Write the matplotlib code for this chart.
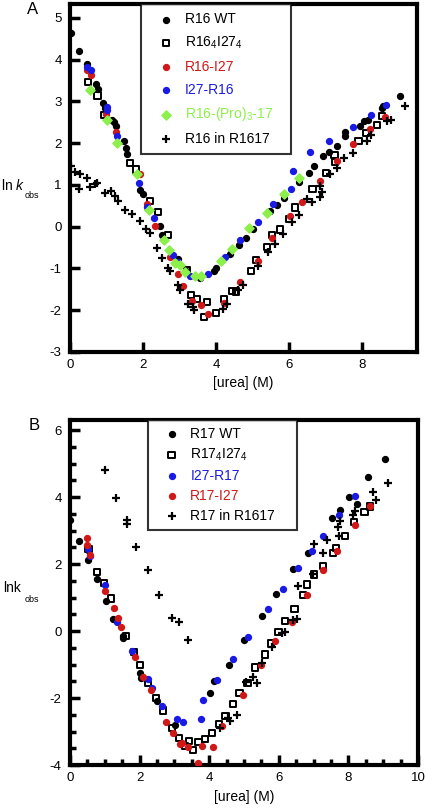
import matplotlib
matplotlib.use("Agg")
import matplotlib.pyplot as plt
from matplotlib.ticker import MultipleLocator

plt.rcParams['font.family'] = ['Liberation Sans', 'DejaVu Sans']
plt.rcParams['mathtext.fontset'] = 'custom'
plt.rcParams['mathtext.rm'] = 'Liberation Sans'
plt.rcParams['mathtext.it'] = 'Liberation Sans:italic'
plt.rcParams['axes.unicode_minus'] = False

# ---------------- Panel A data ----------------
a_wt_x = [0.02,0.25,0.47,0.71,0.76,0.91,0.96,1.16,1.21,1.26,1.48,1.53,1.57,1.92,2.01,2.47,2.51,2.97,3.17,3.56,3.95,4.01,4.38,4.63,4.82,5.02,5.48,5.66,5.86,6.27,6.53,6.68,6.92,7.10,7.31,7.52,7.53,7.95,8.04,8.17,8.54,8.58,9.04]
a_wt_y = [4.64,4.21,3.89,3.41,3.30,2.96,2.85,2.56,2.50,2.40,2.05,1.88,1.75,0.87,0.79,0.02,-0.19,-0.77,-1.05,-1.22,-1.05,-0.98,-0.65,-0.45,-0.27,-0.06,0.38,0.52,0.68,1.07,1.29,1.45,1.69,1.79,1.92,2.17,2.26,2.42,2.54,2.56,2.84,2.90,3.12]

a_sq_x = [0.50,0.75,0.94,1.64,1.81,2.19,2.42,2.69,3.20,3.31,3.47,3.74,3.67,4.00,4.22,4.43,4.55,4.95,5.10,5.39,5.53,5.75,6.00,6.16,6.64,7.01,7.24,7.26,7.90,8.11,8.40,8.54]
a_sq_y = [3.46,3.14,2.68,1.53,1.37,0.62,0.36,-0.20,-1.05,-1.63,-1.74,-1.80,-2.16,-2.06,-1.73,-1.54,-1.55,-1.07,-0.79,-0.48,-0.20,-0.07,0.18,0.46,0.91,1.29,1.71,1.54,2.05,2.25,2.44,2.64]

a_red_x = [0.47,0.57,0.99,1.26,1.92,2.10,2.33,2.74,2.97,3.10,3.33,3.58,3.79,4.22,4.66,5.16,5.53,6.03,6.35,6.85,7.32,7.76,8.22,8.63]
a_red_y = [3.75,3.64,2.70,2.26,1.25,0.54,0.02,-0.73,-1.13,-1.43,-1.79,-1.88,-2.08,-1.82,-1.33,-0.81,-0.28,0.26,0.58,1.10,1.57,1.98,2.33,2.63]

a_blue_x = [0.47,0.57,1.00,1.00,1.30,1.90,2.10,2.30,2.81,2.96,3.29,3.77,4.25,4.66,5.16,5.55,6.05,6.10,6.58,7.08,7.76,8.24,8.66]
a_blue_y = [3.83,3.75,2.86,2.79,2.17,1.05,0.48,0.21,-0.67,-0.85,-1.17,-1.14,-0.73,-0.32,0.10,0.54,0.91,1.33,1.79,2.05,2.38,2.68,2.92]

a_grn_x = [0.55,1.02,1.30,1.83,2.17,2.58,2.71,2.88,3.01,3.15,3.42,3.58,4.13,4.43,4.89,5.39,5.86,6.27]
a_grn_y = [3.28,2.55,2.01,1.25,0.40,-0.33,-0.55,-0.87,-0.92,-1.09,-1.17,-1.18,-0.83,-0.53,-0.04,0.32,0.79,1.17]

a_pl_x = [0.02,0.15,0.27,0.25,0.46,0.55,0.68,0.73,0.96,1.13,1.23,1.32,1.51,1.69,1.92,2.08,2.19,2.37,2.51,2.69,2.74,2.97,3.01,3.24,3.38,3.40,4.18,4.29,4.61,4.75,5.16,5.43,5.62,5.84,6.07,6.27,6.48,6.62,6.85,6.85,6.90,7.12,7.31,7.49,7.76,8.13,8.25,8.68,8.80,9.18]
a_pl_y = [1.45,1.30,1.25,0.90,1.17,0.94,1.03,1.05,0.80,0.86,0.74,0.62,0.40,0.30,0.13,-0.06,-0.15,-0.51,-0.75,-0.99,-1.07,-1.40,-1.51,-1.84,-1.92,-2.00,-1.96,-1.85,-1.52,-1.40,-0.93,-0.61,-0.41,-0.17,0.10,0.29,0.66,0.60,0.70,0.98,0.83,1.25,1.41,1.65,1.77,2.05,2.20,2.52,2.56,2.88]

# ---------------- Panel B data ----------------
b_wt_x = [0.0,0.27,0.53,0.53,0.78,1.03,1.24,1.51,1.52,2.01,2.03,2.49,3.02,4.02,4.14,4.58,5.00,5.51,5.92,6.40,6.85,7.54,7.76,8.03,8.24,8.55,9.05]
b_wt_y = [3.30,2.69,2.41,2.13,1.55,0.89,0.35,-0.15,-0.22,-1.26,-1.40,-2.10,-2.80,-1.84,-1.49,-1.01,-0.27,0.46,1.12,1.84,2.34,3.38,3.62,4.00,3.78,4.61,5.14]

b_sq_x = [0.53,0.77,0.98,1.17,1.61,1.85,2.01,2.25,2.47,2.68,2.92,3.14,3.30,3.43,3.54,3.69,3.88,4.09,4.29,4.47,4.69,4.87,5.10,5.32,5.60,5.77,5.99,6.18,6.45,6.69,6.82,7.02,7.28,7.55,7.64,7.90,8.16,8.46,8.62]
b_sq_y = [2.46,1.77,1.44,0.97,-0.14,-0.62,-1.01,-1.54,-2.00,-2.37,-2.90,-3.19,-3.44,-3.29,-3.56,-3.32,-3.22,-3.04,-2.77,-2.53,-2.17,-1.86,-1.56,-1.09,-0.70,-0.37,-0.04,0.31,0.65,1.07,1.39,1.69,1.93,2.33,2.47,2.83,3.25,3.55,3.72]

b_blue_x = [0.53,0.57,1.01,1.34,1.77,2.25,2.35,2.63,3.07,3.24,3.76,3.83,4.23,4.69,5.12,5.68,6.13,6.56,6.94,7.26,7.74,8.19]
b_blue_y = [2.44,2.23,1.37,0.28,-0.59,-1.43,-1.70,-2.25,-2.62,-2.73,-2.62,-2.05,-1.46,-0.84,-0.17,0.67,1.24,1.87,2.38,2.83,3.47,4.02]

b_red_x = [0.48,0.48,0.57,1.01,1.27,1.37,1.46,1.87,2.11,2.32,2.75,2.97,3.16,3.22,3.40,3.67,3.78,4.12,4.36,4.96,5.49,5.89,6.39,6.82,7.28,7.66,8.19,8.62]
b_red_y = [2.79,2.58,2.28,1.20,0.68,0.38,0.11,-0.78,-1.38,-1.76,-2.72,-3.03,-3.36,-3.33,-3.47,-3.94,-3.44,-3.47,-2.83,-1.90,-1.01,-0.29,0.28,1.09,1.82,2.38,3.18,3.72]

b_pl_x = [1.01,1.32,1.65,1.64,1.90,2.23,2.57,2.92,3.13,3.38,4.31,4.55,4.60,4.79,5.06,5.27,5.38,5.51,5.80,6.08,6.18,6.42,6.51,6.56,6.99,7.02,7.28,7.38,7.69,7.74,7.76,8.12,8.19,8.70,8.79,9.15]
b_pl_y = [4.82,3.98,3.32,3.21,2.51,1.82,1.09,0.40,0.28,-0.27,-2.90,-2.60,-2.70,-2.50,-1.51,-1.37,-1.54,-0.96,-0.47,-0.07,-0.03,0.33,0.36,1.34,1.70,2.59,2.33,2.71,3.10,2.83,3.27,3.45,3.58,4.15,3.92,4.41]

RED = '#d01818'
BLUE = '#1a1ae6'
GREEN = '#8cf04a'

fig = plt.figure(figsize=(4.27, 8.10), dpi=100)
W, H = 427, 810

def axes_px(l, t, r, b):
    return fig.add_axes([l / W, 1 - b / H, (r - l) / W, (b - t) / H])

axA = axes_px(70, 4, 417, 352)
axB = axes_px(70, 420, 418, 765)

def style(ax):
    for s in ax.spines.values():
        s.set_linewidth(3)
    ax.tick_params(which='both', direction='in', top=False, right=False,
                   labelsize=9.5, width=2.5)
    ax.tick_params(which='major', length=7)
    ax.tick_params(which='minor', length=4)
    ax.tick_params(axis='x', pad=5)
    ax.tick_params(axis='y', pad=6)

ms = 18
# Panel A
axA.scatter(a_wt_x, a_wt_y, s=ms, c='black', label='R16 WT', zorder=3)
axA.scatter(a_sq_x, a_sq_y, s=20, marker='s', facecolors='none', edgecolors='black', linewidths=1.4, label=r'R16$_4$I27$_4$', zorder=3)
axA.scatter(a_red_x, a_red_y, s=ms, c=RED, label='R16-I27', zorder=3)
axA.scatter(a_blue_x, a_blue_y, s=ms, c=BLUE, label='I27-R16', zorder=3)
axA.scatter(a_grn_x, a_grn_y, s=22, marker='D', c=GREEN, label=r'R16-(Pro)$_3$-17', zorder=3)
axA.scatter(a_pl_x, a_pl_y, s=38, marker='+', c='black', linewidths=1.6, label='R16 in R1617', zorder=3)
axA.set_xlim(0, 9.5)
axA.set_ylim(-3, 5.33)
axA.set_xticks([0, 2, 4, 6, 8])
axA.set_yticks([-3, -2, -1, 0, 1, 2, 3, 4, 5])
style(axA)
legA = axA.legend(loc='upper left', bbox_to_anchor=(0.205, 1.0, 0.432, 0.0),
                  mode='expand', borderaxespad=0,
                  fontsize=10, frameon=True, fancybox=False, edgecolor='black',
                  handletextpad=0.15, borderpad=0.6, labelspacing=0.62,
                  handlelength=2.4)
legA.get_frame().set_linewidth(1.5)
for t, col in zip(legA.get_texts(), ['black', 'black', RED, BLUE, GREEN, 'black']):
    t.set_color(col)
axA.set_xlabel('[urea] (M)', fontsize=10, labelpad=4)

# Panel B
axB.scatter(b_wt_x, b_wt_y, s=ms, c='black', label='R17 WT', zorder=3)
axB.scatter(b_sq_x, b_sq_y, s=20, marker='s', facecolors='none', edgecolors='black', linewidths=1.4, label=r'R17$_4$I27$_4$', zorder=3)
axB.scatter(b_blue_x, b_blue_y, s=ms, c=BLUE, label='I27-R17', zorder=3)
axB.scatter(b_red_x, b_red_y, s=ms, c=RED, label='R17-I27', zorder=3)
axB.scatter(b_pl_x, b_pl_y, s=38, marker='+', c='black', linewidths=1.6, label='R17 in R1617', zorder=3)
axB.set_xlim(0, 10)
axB.set_ylim(-4, 6.3)
axB.set_xticks([0, 2, 4, 6, 8, 10])
axB.set_yticks([-4, -2, 0, 2, 4, 6])
axB.xaxis.set_minor_locator(MultipleLocator(0.5))
axB.yaxis.set_minor_locator(MultipleLocator(0.5))
style(axB)
legB = axB.legend(loc='upper left', bbox_to_anchor=(0.224, 1.0, 0.428, 0.0),
                  mode='expand', borderaxespad=0,
                  fontsize=10, frameon=True, fancybox=False, edgecolor='black',
                  handletextpad=0.15, borderpad=0.5, labelspacing=0.42,
                  handlelength=2.4)
legB.get_frame().set_linewidth(1.5)
for t, col in zip(legB.get_texts(), ['black', 'black', BLUE, RED, 'black']):
    t.set_color(col)
axB.set_xlabel('[urea] (M)', fontsize=10, labelpad=4)

# y labels and panel letters
fig.text(1 / W, 1 - 186 / H, r'ln $k$', fontsize=10, va='center', ha='left')
fig.text(25 / W, 1 - 195 / H, 'obs', fontsize=6.5, va='center', ha='left')
fig.text(3 / W, 1 - 588 / H, 'lnk', fontsize=10, va='center', ha='left')
fig.text(25 / W, 1 - 599 / H, 'obs', fontsize=6.5, va='center', ha='left')
fig.text(27 / W, 1 - 10 / H, 'A', fontsize=12, va='center', ha='left')
fig.text(29 / W, 1 - 425 / H, 'B', fontsize=12, va='center', ha='left')

fig.savefig('out.png', dpi=100)
